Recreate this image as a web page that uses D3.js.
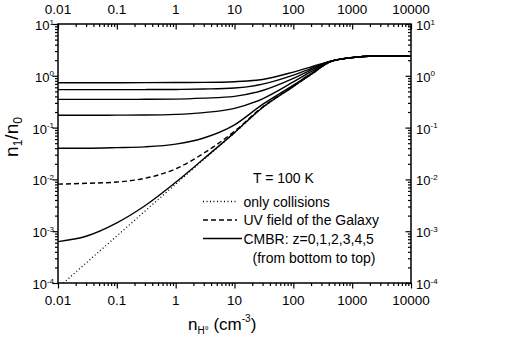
<!DOCTYPE html>
<html>
<head>
<meta charset="utf-8">
<script src="https://cdn.jsdelivr.net/npm/d3@7"></script>
<style>
  body { margin: 0; background: #fff; }
  svg { font-family: Arial, "Liberation Sans", sans-serif; }
</style>
</head>
<body>
<svg width="518" height="361"></svg>
<script>
// density of H0, cm^-3
const density = [0.01, 0.03, 0.1, 0.3, 1, 3, 10, 30, 100, 200, 430, 1000, 2300, 5000, 10000];

// n1/n0
const onlyCollisions = [8.1e-5, 2.43e-4, 8.1e-4, 2.43e-3, 8.1e-3, 0.0243, 0.079, 0.243, 0.62, 1.05, 1.86, 2.24, 2.41, 2.42, 2.42];
const uvGalaxy       = [0.0081, 0.0084, 0.0089, 0.0105, 0.016, 0.032, 0.085, 0.25, 0.63, 1.07, 1.87, 2.24, 2.41, 2.42, 2.42];
const cmbrZ0 = [6.3e-4, 8.0e-4, 1.45e-3, 3.1e-3, 8.8e-3, 0.025, 0.08, 0.245, 0.62, 1.06, 1.87, 2.24, 2.41, 2.42, 2.42];
const cmbrZ1 = [0.040, 0.040, 0.041, 0.0425, 0.048, 0.063, 0.113, 0.28, 0.66, 1.1, 1.88, 2.24, 2.41, 2.42, 2.42];
const cmbrZ2 = [0.173, 0.173, 0.174, 0.175, 0.18, 0.195, 0.235, 0.36, 0.76, 1.2, 1.89, 2.24, 2.41, 2.42, 2.42];
const cmbrZ3 = [0.35, 0.35, 0.35, 0.352, 0.355, 0.37, 0.40, 0.52, 0.89, 1.3, 1.9, 2.25, 2.41, 2.42, 2.42];
const cmbrZ4 = [0.54, 0.54, 0.54, 0.542, 0.545, 0.555, 0.58, 0.69, 1.03, 1.38, 1.91, 2.25, 2.41, 2.42, 2.42];
const cmbrZ5 = [0.736, 0.736, 0.736, 0.737, 0.74, 0.745, 0.77, 0.85, 1.18, 1.48, 1.92, 2.25, 2.41, 2.42, 2.42];

const xTicks = [0.01, 0.1, 1, 10, 100, 1000, 10000];
const xTickLabels = ["0.01", "0.1", "1", "10", "100", "1000", "10000"];
const yTicks = [1e-4, 1e-3, 1e-2, 1e-1, 1, 10];
const yExponents = ["-4", "-3", "-2", "-1", "0", "1"];

const legendTitle = "T = 100 K";
const legendLabels = ["only collisions", "UV field of the Galaxy", "CMBR: z=0,1,2,3,4,5"];
const legendNote = "(from bottom to top)";

const svg = d3.select("svg");

const attr_area = { left: 58, right: 411, top: 24, bottom: 283 };

const scX = d3.scaleLog().domain([0.01, 10000]).range([attr_area.left, attr_area.right]);
const scY = d3.scaleLog().domain([1e-4, 10]).range([attr_area.bottom, attr_area.top]);

// minor ticks 2..9 in every decade
function minors(majors) {
    let res = [];
    for (let i = 0; i < majors.length - 1; i++) {
        for (let k = 2; k <= 9; k++) res.push(majors[i] * k);
    }
    return res;
}

function drawTicks(axisFn, scale, majors, tx, ty) {
    svg.append("g")
        .attr("transform", `translate(${tx}, ${ty})`)
        .call(axisFn(scale).tickValues(minors(majors)).tickSize(3).tickSizeOuter(0).tickFormat(""));
    svg.append("g")
        .attr("transform", `translate(${tx}, ${ty})`)
        .call(axisFn(scale).tickValues(majors).tickSize(5.5).tickSizeOuter(0).tickFormat(""));
}

// bottom/top: ticks point down, left/right: ticks point left
drawTicks(d3.axisBottom, scX, xTicks, 0, attr_area.bottom);
drawTicks(d3.axisBottom, scX, xTicks, 0, attr_area.top);
drawTicks(d3.axisLeft, scY, yTicks, attr_area.left, 0);
drawTicks(d3.axisLeft, scY, yTicks, attr_area.right, 0);

svg.selectAll(".domain").remove();
svg.selectAll(".tick line").attr("stroke", "#000").attr("stroke-width", 1.2);

svg.append("rect")
    .attr("x", attr_area.left)
    .attr("y", attr_area.top)
    .attr("width", attr_area.right - attr_area.left)
    .attr("height", attr_area.bottom - attr_area.top)
    .attr("fill", "none")
    .attr("stroke", "#000")
    .attr("stroke-width", 1.5);

// x tick labels, top and bottom
xTicks.forEach((t, i) => {
    svg.append("text").attr("x", scX(t)).attr("y", 14.3)
        .attr("text-anchor", "middle").attr("font-size", 13.5).text(xTickLabels[i]);
    svg.append("text").attr("x", scX(t)).attr("y", 304.5)
        .attr("text-anchor", "middle").attr("font-size", 13.5).text(xTickLabels[i]);
});

// y tick labels with exponent, left and right
yTicks.forEach((t, i) => {
    const yy = scY(t) + 6;
    const l = svg.append("text").attr("x", 54).attr("y", yy)
        .attr("text-anchor", "end").attr("font-size", 13);
    l.append("tspan").text("10");
    l.append("tspan").attr("font-size", 8).attr("dy", -5.5).text(yExponents[i]);

    const r = svg.append("text").attr("x", 416).attr("y", yy)
        .attr("font-size", 13);
    r.append("tspan").text("10");
    r.append("tspan").attr("font-size", 8).attr("dy", -5.5).text(yExponents[i]);
});

// curves
svg.append("clipPath").attr("id", "plotclip")
    .append("rect")
    .attr("x", attr_area.left).attr("y", attr_area.top)
    .attr("width", attr_area.right - attr_area.left)
    .attr("height", attr_area.bottom - attr_area.top);

const line = d3.line()
    .x(d => scX(d[0]))
    .y(d => scY(d[1]))
    .curve(d3.curveMonotoneX);

function drawLine(values, dash) {
    svg.append("path")
        .datum(density.map((n, i) => [n, values[i]]))
        .attr("d", line)
        .attr("clip-path", "url(#plotclip)")
        .attr("fill", "none")
        .attr("stroke", "#000")
        .attr("stroke-width", dash === "1,2.5" ? 1.3 : 1.4)
        .attr("stroke-dasharray", dash);
}

drawLine(onlyCollisions, "1,2.5");
drawLine(uvGalaxy, "5,3");
[cmbrZ0, cmbrZ1, cmbrZ2, cmbrZ3, cmbrZ4, cmbrZ5].forEach(v => drawLine(v, null));

// legend
svg.append("text").attr("x", 253).attr("y", 183).attr("font-size", 14).text(legendTitle);
const dashes = ["1,2.5", "5,3", null];
legendLabels.forEach((lab, i) => {
    const yy = 206.5 + i * 18.5;
    svg.append("line")
        .attr("x1", 203).attr("x2", i === 2 ? 242 : 237)
        .attr("y1", yy - 5).attr("y2", yy - 5)
        .attr("stroke", "#000").attr("stroke-width", 1.4)
        .attr("stroke-dasharray", dashes[i]);
    svg.append("text").attr("x", 243.5).attr("y", yy).attr("font-size", 14).text(lab);
});
svg.append("text").attr("x", 252.5).attr("y", 262.5).attr("font-size", 14).text(legendNote);

// axis titles
const yt = svg.append("text")
    .attr("transform", "translate(18, 137) rotate(-90)")
    .attr("text-anchor", "middle")
    .attr("font-size", 19);
yt.append("tspan").text("n");
yt.append("tspan").attr("font-size", 12).attr("dy", 4).text("1");
yt.append("tspan").attr("dy", -4).text("/n");
yt.append("tspan").attr("font-size", 12).attr("dy", 4).text("0");

const xt = svg.append("text")
    .attr("x", 188).attr("y", 330)
    .attr("font-size", 17);
xt.append("tspan").text("n");
xt.append("tspan").attr("font-size", 10).attr("dy", 4).text("H°");
xt.append("tspan").attr("dy", -4).text(" (cm");
xt.append("tspan").attr("font-size", 10).attr("dy", -8).text("-3");
xt.append("tspan").attr("dy", 8).text(")");
</script>
</body>
</html>
